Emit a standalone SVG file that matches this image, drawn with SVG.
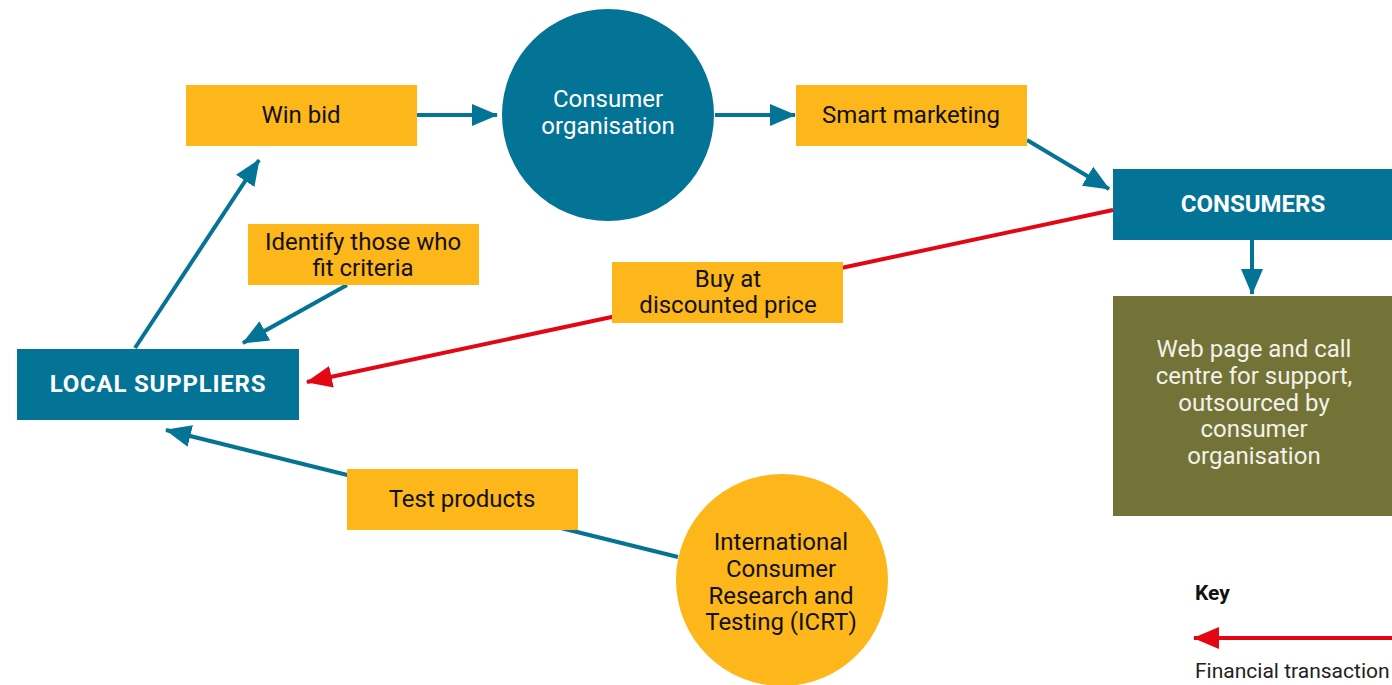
<svg xmlns="http://www.w3.org/2000/svg" width="1392" height="685" viewBox="0 0 1392 685">
<style>
.t{font-family:Roboto,"Liberation Sans",sans-serif;font-size:24px;text-anchor:middle}
.dk{fill:#111}
.wh{fill:#fff}
.b{font-weight:bold}
.teal{fill:#037396}
.yel{fill:#FDB71A}
.cb{stroke:#037396;stroke-width:4;fill:none}
.cr{stroke:#E30613;stroke-width:4;fill:none}
.k{font-family:Roboto,"Liberation Sans",sans-serif;font-size:21px}
</style>
<defs>
<marker id="ab" markerUnits="userSpaceOnUse" markerWidth="26" markerHeight="22" refX="25" refY="11" orient="auto"><path d="M0,0 L26,11 L0,22 Z" fill="#037396"/></marker>
<marker id="ar" markerUnits="userSpaceOnUse" markerWidth="26" markerHeight="22" refX="25" refY="11" orient="auto"><path d="M0,0 L26,11 L0,22 Z" fill="#E30613"/></marker>
</defs>
<rect width="1392" height="685" fill="#fff"/>
<g id="connectors">
<line class="cb" x1="417" y1="115" x2="497" y2="115" marker-end="url(#ab)"/>
<line class="cb" x1="715" y1="115" x2="795" y2="115" marker-end="url(#ab)"/>
<line class="cb" x1="1027" y1="140" x2="1109" y2="189" marker-end="url(#ab)"/>
<line class="cb" x1="1252" y1="240" x2="1252" y2="294" marker-end="url(#ab)"/>
<line class="cb" x1="135" y1="348" x2="259" y2="160" marker-end="url(#ab)"/>
<line class="cb" x1="347" y1="285" x2="243" y2="343" marker-end="url(#ab)"/>
<line class="cr" x1="1113" y1="210" x2="307" y2="382" marker-end="url(#ar)"/>
<line class="cb" x1="678" y1="557" x2="166" y2="430" marker-end="url(#ab)"/>
</g>
<g id="win-bid"><rect class="yel" x="186" y="85" width="231" height="61"/><text class="t dk" x="301" y="123">Win bid</text></g>
<g id="consumer-org"><circle class="teal" cx="608" cy="115" r="106"/><text class="t wh" x="608" y="107">Consumer</text><text class="t wh" x="608" y="134">organisation</text></g>
<g id="smart-marketing"><rect class="yel" x="796" y="85" width="231" height="61"/><text class="t dk" x="911" y="123">Smart marketing</text></g>
<g id="consumers"><rect class="teal" x="1113" y="169" width="279" height="71"/><text class="t wh b" x="1253" y="212">CONSUMERS</text></g>
<g id="support"><rect fill="#737337" x="1113" y="296" width="279" height="220"/>
<text class="t" fill="#f2f2ea" x="1254" y="357">Web page and call</text>
<text class="t" fill="#f2f2ea" x="1254" y="384">centre for support,</text>
<text class="t" fill="#f2f2ea" x="1254" y="411">outsourced by</text>
<text class="t" fill="#f2f2ea" x="1254" y="437">consumer</text>
<text class="t" fill="#f2f2ea" x="1254" y="464">organisation</text></g>
<g id="identify"><rect class="yel" x="248" y="224" width="231" height="61"/><text class="t dk" x="363" y="250">Identify those who</text><text class="t dk" x="363" y="276">fit criteria</text></g>
<g id="buy"><rect class="yel" x="612" y="262" width="231" height="61"/><text class="t dk" x="728" y="287">Buy at</text><text class="t dk" x="728" y="313">discounted price</text></g>
<g id="local-suppliers"><rect class="teal" x="17" y="349" width="282" height="71"/><text class="t wh b" x="158" y="392" letter-spacing="0.8">LOCAL SUPPLIERS</text></g>
<g id="test-products"><rect class="yel" x="347" y="469" width="231" height="61"/><text class="t dk" x="462" y="507">Test products</text></g>
<g id="icrt"><circle class="yel" cx="782" cy="580" r="106"/>
<text class="t dk" x="781" y="550">International</text>
<text class="t dk" x="781" y="577">Consumer</text>
<text class="t dk" x="781" y="604">Research and</text>
<text class="t dk" x="781" y="630">Testing (ICRT)</text></g>
<g id="key">
<text class="k" x="1195" y="600" font-weight="bold" fill="#111">Key</text>
<line class="cr" x1="1392" y1="638" x2="1194" y2="638" marker-end="url(#ar)"/>
<text class="k" x="1195" y="678" fill="#222">Financial transaction</text>
</g>
</svg>
